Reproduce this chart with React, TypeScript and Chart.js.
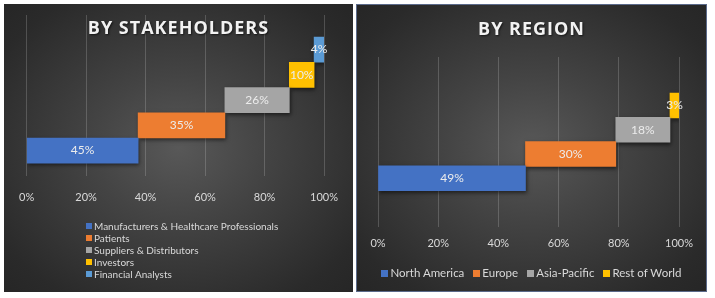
import React, { useEffect, useRef } from "react";
import { Chart, registerables } from "chart.js";

Chart.register(...registerables);

// ---------- data ----------
const stakeholderNames = [
  "Manufacturers & Healthcare Professionals",
  "Patients",
  "Suppliers & Distributors",
  "Investors",
  "Financial Analysts",
];
const stakeholderValues = [45, 35, 26, 10, 4];
const stakeholderColors = ["#4472C4", "#ED7D31", "#A5A5A5", "#FFC000", "#5B9BD5"];

const regionNames = ["North America", "Europe", "Asia-Pacific", "Rest of World"];
const regionValues = [49, 30, 18, 3];
const regionColors = ["#4472C4", "#ED7D31", "#A5A5A5", "#FFC000"];

const axisMin = 0;
const axisMax = 100;
const axisStep = 20;

const FONT = "Lato, 'Open Sans', sans-serif";

type PanelProps = {
  title: string;
  names: string[];
  values: number[];
  colors: string[];
  left: number;
  top: number;
  width: number;
  height: number;
  padding: { left: number; right: number; top: number; bottom: number };
  tickPadding: number;
  yMin: number;
  yMax: number;
  border: string;
  legendVertical: boolean;
  legendTop: number;
  legendLeft?: number;
};

const labelPlugin = {
  id: "barLabels",
  beforeDatasetsDraw(chart: any) {
    const ctx = chart.ctx;
    ctx.save();
    ctx.shadowColor = "rgba(0,0,0,0.55)";
    ctx.shadowBlur = 4;
    ctx.shadowOffsetX = 1;
    ctx.shadowOffsetY = 2;
  },
  afterDatasetsDraw(chart: any) {
    const ctx = chart.ctx;
    ctx.restore();
    ctx.save();
    ctx.font = `12px ${FONT}`;
    ctx.fillStyle = "#ececec";
    ctx.textAlign = "center";
    ctx.textBaseline = "middle";
    chart.data.datasets.forEach((ds: any, i: number) => {
      const meta = chart.getDatasetMeta(i);
      const el = meta.data[0];
      if (!el) return;
      const cx = (el.x + el.base) / 2;
      ctx.fillText(ds.valueLabel, cx, el.y);
    });
    ctx.restore();
  },
};

function Panel(p: PanelProps) {
  const ref = useRef<HTMLCanvasElement | null>(null);
  useEffect(() => {
    if (!ref.current) return;
    const total = p.values.reduce((a, b) => a + b, 0);
    let cum = 0;
    const datasets = p.values.map((v, i) => {
      const start = (cum / total) * 100;
      cum += v;
      const end = (cum / total) * 100;
      return {
        label: p.names[i],
        valueLabel: `${v}%`,
        data: [{ x: [start, end], y: i }],
        backgroundColor: p.colors[i],
        borderWidth: 0,
        barThickness: 25,
        grouped: false,
      };
    });
    const chart = new Chart(ref.current, {
      type: "bar",
      data: { datasets: datasets as any },
      options: {
        indexAxis: "y",
        animation: false,
        responsive: false,
        maintainAspectRatio: false,
        layout: { padding: p.padding },
        plugins: {
          legend: { display: false },
          title: { display: false },
          tooltip: { enabled: false },
        },
        scales: {
          x: {
            type: "linear",
            min: axisMin,
            max: axisMax,
            border: { display: false },
            grid: { color: "rgba(217,217,217,0.22)", lineWidth: 1, drawTicks: false },
            ticks: {
              stepSize: axisStep,
              padding: p.tickPadding,
              color: "#d9d9d9",
              font: { family: FONT, size: 11 },
              callback: (v: any) => `${v}%`,
            },
          },
          y: {
            type: "linear",
            display: false,
            offset: false,
            min: p.yMin,
            max: p.yMax,
          },
        },
      },
      plugins: [labelPlugin],
    });
    return () => chart.destroy();
  }, []);

  return (
    <div
      style={{
        position: "absolute",
        left: p.left,
        top: p.top,
        width: p.width,
        height: p.height,
        boxSizing: "border-box",
        border: p.border,
        background:
          "radial-gradient(ellipse at 50% 50%, #585858 0%, #444444 35%, #2a2a2a 85%, #262626 100%)",
        overflow: "hidden",
      }}
    >
      <canvas
        ref={ref}
        width={p.width}
        height={p.height}
        style={{ position: "absolute", left: 0, top: 0, width: p.width, height: p.height }}
      />
      <div
        style={{
          position: "absolute",
          left: 0,
          top: 12,
          width: "100%",
          textAlign: "center",
          fontFamily: "'Open Sans', sans-serif",
          fontWeight: 700,
          fontSize: 18,
          lineHeight: "22px",
          letterSpacing: 1,
          color: "#f2f2f2",
          textShadow: "1px 1px 2px rgba(0,0,0,0.6)",
        }}
      >
        {p.title}
      </div>
      {p.legendVertical ? (
        <div
          style={{
            position: "absolute",
            left: p.legendLeft,
            top: p.legendTop,
            fontFamily: FONT,
            fontSize: 10,
            color: "#d9d9d9",
          }}
        >
          {p.names.map((n, i) => (
            <div key={n} style={{ height: 12, lineHeight: "12px", display: "flex", alignItems: "center" }}>
              <span
                style={{ display: "inline-block", width: 6, height: 6, background: p.colors[i], marginRight: 2 }}
              />
              <span style={{ whiteSpace: "nowrap" }}>{n}</span>
            </div>
          ))}
        </div>
      ) : (
        <div
          style={{
            position: "absolute",
            left: 0,
            width: "100%",
            top: p.legendTop,
            display: "flex",
            justifyContent: "center",
            gap: 9,
            fontFamily: FONT,
            fontSize: 11.5,
            color: "#d9d9d9",
            lineHeight: "14px",
          }}
        >
          {p.names.map((n, i) => (
            <div key={n} style={{ display: "flex", alignItems: "center", whiteSpace: "nowrap" }}>
              <span
                style={{ display: "inline-block", width: 7, height: 7, background: p.colors[i], marginRight: 2 }}
              />
              <span>{n}</span>
            </div>
          ))}
        </div>
      )}
    </div>
  );
}

export default function App() {
  return (
    <div
      style={{
        position: "absolute",
        left: 0,
        top: 0,
        width: 715,
        height: 298,
        background: "#ffffff",
        overflow: "hidden",
      }}
    >
      <Panel
        title="BY STAKEHOLDERS"
        names={stakeholderNames}
        values={stakeholderValues}
        colors={stakeholderColors}
        left={4}
        top={4}
        width={349}
        height={288}
        padding={{ left: 22, right: 28, top: 11, bottom: 73 }}
        tickPadding={15}
        yMin={-1}
        yMax={5.37}
        border="none"
        legendVertical={true}
        legendTop={216}
        legendLeft={82}
      />
      <Panel
        title="BY REGION"
        names={regionNames}
        values={regionValues}
        colors={regionColors}
        left={356}
        top={4}
        width={351}
        height={288}
        padding={{ left: 21, right: 29, top: 52, bottom: 33 }}
        tickPadding={10}
        yMin={-2}
        yMax={5}
        border="1px solid #5b6a8a"
        legendVertical={false}
        legendTop={261}
      />
    </div>
  );
}
